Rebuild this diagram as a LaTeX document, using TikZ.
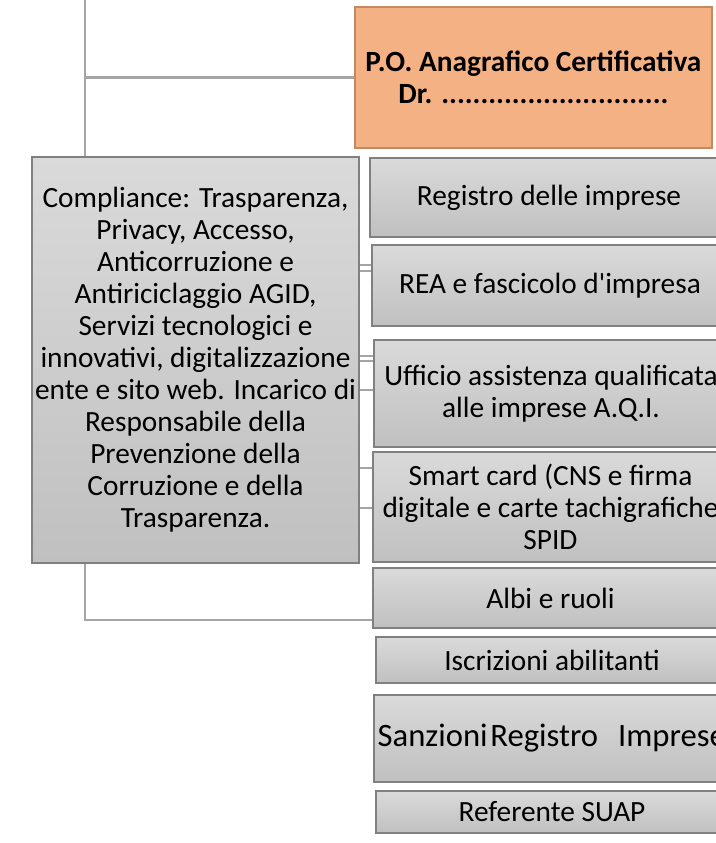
\documentclass[tikz,border=0pt]{standalone}
\usepackage{fontspec}
\setmainfont{Carlito}
\usepackage{tikz}
\usetikzlibrary{positioning}
\definecolor{poorange}{RGB}{244,177,131}
\definecolor{poedge}{RGB}{196,137,96}
\definecolor{boxtop}{RGB}{218,218,218}
\definecolor{boxbot}{RGB}{192,192,192}
\definecolor{boxedge}{RGB}{128,128,128}
\definecolor{linkgray}{RGB}{165,165,165}

\begin{document}
\begin{tikzpicture}[x=0.75pt,y=-0.75pt,
    link/.style={draw=linkgray,line width=2pt},
    stub/.style={draw=linkgray,line width=1.3pt},
    greybox/.style={draw=boxedge,line width=0.9pt,top color=boxtop,bottom color=boxbot,
                    align=center,inner sep=2pt,font=\fontsize{22pt}{24pt}\selectfont}]
	\useasboundingbox (0,0) rectangle (716,843);
	\clip (0,0) rectangle (716,843);

	\node[draw=poedge,line width=0.9pt,fill=poorange,align=center,
	      minimum width=267.75pt,minimum height=105.75pt,
	      font=\fontsize{22pt}{24pt}\selectfont\bfseries] (po) at (533.5,77.5)
	      {P.O. Anagrafico Certificativa\\Dr. .............................};

	\begin{scope}[every node/.style={greybox}]
	    \node[minimum width=245.25pt,minimum height=304.5pt] (comp) at (195.5,360)
	      {Compliance: Trasparenza,\\Privacy, Accesso,\\Anticorruzione e\\Antiriciclaggio AGID,\\Servizi tecnologici e\\innovativi, digitalizzazione\\ente e sito web. Incarico di\\Responsabile della\\Prevenzione della\\Corruzione e della\\Trasparenza.};
	    \node[minimum width=268.5pt,minimum height=59.25pt] (reg) at (549,197.5) {Registro delle imprese};
	    \node[minimum width=267pt,minimum height=60.75pt] (rea) at (550,285.5) {REA e fascicolo d\textquotesingle impresa};
	    \node[minimum width=265.5pt,minimum height=80.25pt] (uff) at (551,393.5) {Ufficio assistenza qualificata\\alle imprese A.Q.I.};
	    \node[minimum width=266.25pt,minimum height=82.5pt] (smart) at (550.5,507) {Smart card (CNS e firma\\digitale e carte tachigrafiche\\SPID};
	    \node[minimum width=266.25pt,minimum height=45pt] (albi) at (550.5,598) {Albi e ruoli};
	    \node[minimum width=264pt,minimum height=34.5pt] (iscr) at (552,660) {Iscrizioni abilitanti};
	    \node[minimum width=265.5pt,minimum height=65.25pt,text width=260pt,align=left,
	          font=\fontsize{24.5pt}{26pt}\selectfont] (sanz) at (551,738.5) {\mbox{Sanzioni\hspace{2pt}Registro\hspace{15pt}Imprese}};
	    \node[minimum width=264pt,minimum height=31.5pt] (ref) at (552,812) {Referente SUAP};
	\end{scope}

	% lines from the parent above
	\coordinate (top) at (85,0);
	\draw[link] (top) -- (top |- comp.north);
	\draw[link] (top |- po.west) -- (po.west);
	\coordinate (albiin) at ([yshift=-16.5pt]albi.west);
	\draw[link] (top |- comp.south) |- (albiin);

	% short links behind the boxes
	\foreach \b/\dy in {rea/-20.5,rea/-14.5,uff/-37.5,uff/-32.5,uff/-3.5,smart/-39,smart/1}{
	    \path (comp.east |- \b.west) ++(0,\dy) coordinate (s);
	    \draw[stub] (s) -- (s -| \b.west);
	}
\end{tikzpicture}
\end{document}
